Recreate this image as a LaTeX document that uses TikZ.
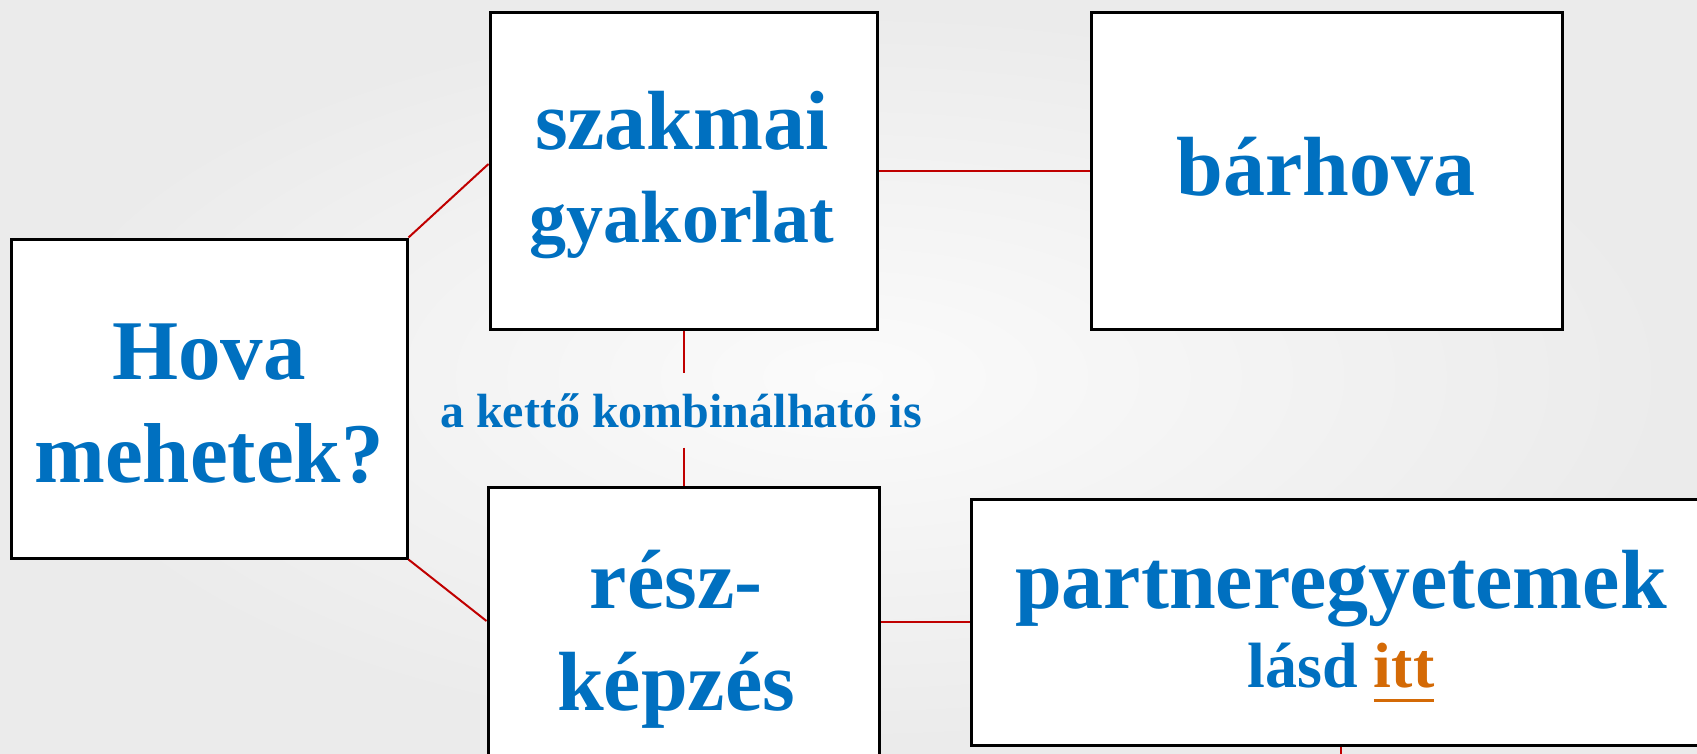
\documentclass[tikz,border=0pt]{standalone}
\usepackage{fontspec}
\setmainfont{Liberation Serif}
\usetikzlibrary{calc}
\definecolor{txtblue}{HTML}{0070C0}
\definecolor{linkorange}{RGB}{212,106,6}
\definecolor{connred}{HTML}{C00000}
\newcommand{\myul}[1]{\setbox0\hbox{#1}\rlap{\rule[-15pt]{\wd0}{3.5pt}}\box0}
\tikzset{
  box/.style={draw=black, line width=3pt, fill=white, inner sep=0pt},
  conn/.style={draw=connred, line width=2pt},
  txt/.style={anchor=base, inner sep=0pt, text=txtblue, font=\bfseries},
  big/.style={txt, font=\fontsize{84}{100}\selectfont\bfseries},
}
\begin{document}
\begin{tikzpicture}[x=1pt,y=-1pt]
\useasboundingbox (0,0) rectangle (1697,754);
\fill[inner color=white!98.5!black, outer color=white!92!black] (0,0) rectangle (1697,754);
% boxes
\node[box, minimum width=396pt, minimum height=319pt] (hova) at (209,398.5) {};
\node[box, minimum width=387pt, minimum height=316pt] (szak) at (683.5,171) {};
\node[box, minimum width=471pt, minimum height=316pt] (barh) at (1326.5,171) {};
\node[box, minimum width=391pt, minimum height=270pt] (resz) at (683.5,622) {};
\node[box, minimum width=739pt, minimum height=246pt] (part) at (1340.5,622) {};
% texts
\node[big, font=\fontsize{85}{100}\selectfont\bfseries] (hova1) at (209,379) {Hova};
\node[big, font=\fontsize{85}{100}\selectfont\bfseries] (hova2) at (209,482) {mehetek?};
\node[big] (szak1) at (682,150) {szakmai};
\node[big, font=\fontsize{74}{90}\selectfont\bfseries] (szak2) at (682,243) {gyakorlat};
\node[big] (barh1) at (1326,196) {bárhova};
\node[big] (resz1) at (676,608) {rész-};
\node[big] (resz2) at (676,710) {képzés};
\node[big] (part1) at (1341,608) {partneregyetemek};
\node[txt, font=\fontsize{64}{76}\selectfont\bfseries] (part2) at (1341,687) {lásd \textcolor{linkorange}{\myul{itt}}};
\node[txt, font=\fontsize{48}{58}\selectfont\bfseries] (komb) at (681,427) {a kettő kombinálható is};
% connectors
\coordinate (kt) at ($(szak.south)+(0,42)$);
\coordinate (kb) at ($(resz.north)-(0,38)$);
\coordinate (pend) at ($(part.south)+(0,12)$);
\draw[conn] (hova.north east) -- ([yshift=7pt]szak.west);
\draw[conn] (hova.south east) -- ([yshift=1pt]resz.west);
\draw[conn] (szak.east) -- (barh.west);
\draw[conn] (szak.south) -- (kt);
\draw[conn] (kb) -- (resz.north);
\draw[conn] (resz.east) -- (part.west);
\draw[conn] (part.south) -- (pend);
\end{tikzpicture}
\end{document}
